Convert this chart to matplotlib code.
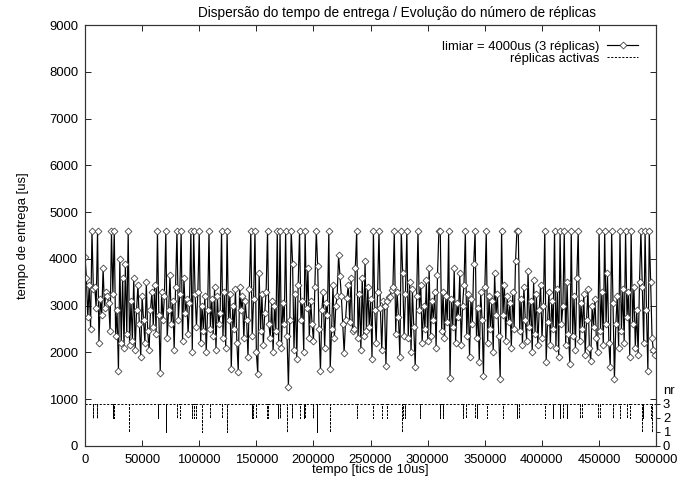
import numpy as np
import matplotlib
matplotlib.use("Agg")
import matplotlib.pyplot as plt

plt.rcParams['font.family'] = ['Liberation Sans', 'DejaVu Sans']

# ---------------- data ----------------
title = "Dispersão do tempo de entrega / Evolução do número de réplicas"
xlabel = "tempo [tics de 10us]"
ylabel = "tempo de entrega [us]"
label_delay = "limiar = 4000us (3 réplicas)"
label_nr = "réplicas activas"

sample_start = 0
sample_step = 1220  # tics between samples

delay_us = [
    4050, 3600, 2750, 3450, 2500, 4600, 3350, 3400, 2950, 4600,
    2200, 3150, 2800, 3800, 2950, 3300, 3200, 3050, 2450, 4600,
    3250, 4600, 2350, 2900, 1610, 4000, 2200, 3600, 2100, 3900,
    2400, 4600, 2150, 3100, 2250, 3600, 2050, 2900, 3450, 2600,
    1900, 3200, 2700, 2200, 3500, 2450, 2050, 2900, 3300, 2550,
    3450, 2400, 4600, 2800, 1560, 3300, 2700, 3200, 4600, 2300,
    2900, 3650, 2600, 3100, 2050, 3400, 4600, 2700, 3250, 4600,
    2250, 3600, 2850, 3150, 2400, 3050, 4600, 2000, 4600, 3250,
    2550, 3300, 4600, 2200, 3000, 2450, 3200, 2000, 2900, 4600,
    2500, 3150, 2350, 3400, 2050, 3200, 2600, 2850, 4600, 2300,
    3300, 2100, 4600, 2700, 3250, 1650, 3000, 2500, 3350, 2200,
    1590, 3400, 2900, 3200, 2300, 3100, 2700, 1900, 3350, 4600,
    2350, 3150, 4600, 2000, 1540, 3700, 2450, 3250, 2150, 2850,
    3300, 4600, 2600, 2300, 3100, 2000, 3000, 2450, 4600, 2200,
    4600, 2100, 3050, 2600, 4600, 2350, 1260, 2700, 4600, 3900,
    2050, 3250, 1850, 3450, 4600, 2700, 3100, 2000, 4600, 2950,
    3800, 2300, 3100, 2600, 2250, 3400, 4600, 3850, 2500, 1600,
    2900, 3300, 2100, 3050, 2800, 4600, 1650, 2500, 3450, 2300,
    3000, 3200, 4080, 3630, 3200, 2600, 1990, 2690, 3160, 3450,
    2650, 3600, 2450, 2500, 3800, 4600, 2300, 3250, 2050, 3600,
    2350, 3950, 2450, 3400, 2550, 3150, 1850, 4600, 2900, 2200,
    3300, 4600, 2950, 2050, 3100, 3000, 1710, 3100, 3190, 3190,
    3340, 3400, 4600, 2400, 3300, 2750, 1900, 4600, 3700, 2350,
    3250, 4600, 2300, 3500, 2000, 3350, 2550, 1690, 3200, 4600,
    2900, 3450, 2200, 3000, 2500, 3550, 2250, 3800, 2350, 3100,
    2700, 3300, 2100, 3650, 4600, 4600, 2450, 3300, 2300, 3200,
    2650, 4600, 1450, 3150, 2550, 3800, 2200, 3050, 2750, 3700,
    2150, 3000, 3450, 4600, 2350, 3250, 1900, 3150, 2600, 3900,
    4600, 2300, 2950, 1800, 3300, 2700, 1500, 3400, 4600, 2200,
    3200, 2500, 3100, 2000, 3700, 2800, 3250, 2350, 1430, 4600,
    2800, 3450, 2250, 3200, 2650, 3050, 2100, 3300, 2500, 3950,
    4600, 4600, 2450, 3150, 2150, 3400, 2700, 2250, 3750, 2550,
    3100, 2000, 3550, 2400, 3250, 2150, 2900, 3450, 2300, 3000,
    4600, 1800, 2650, 3300, 2150, 3100, 2500, 4600, 2100, 3350,
    1900, 4600, 2600, 3000, 4600, 2150, 3500, 2400, 1750, 4600,
    2350, 3200, 2050, 3600, 4600, 2250, 3050, 2500, 3250, 1950,
    2700, 3350, 2100, 1810, 3000, 2550, 3150, 2300, 2000, 4600,
    2450, 3300, 2150, 4600, 2600, 3700, 2200, 1690, 4600, 3050,
    1430, 2600, 3200, 2100, 4600, 2450, 3350, 2200, 4600, 2750,
    3300, 1900, 4600, 2600, 3400, 2100, 2900, 1950, 3500, 4600,
    3400, 2200, 4600, 2900, 1600, 4600, 3500, 2300, 2050, 1950,
]

# replica count: normally 3, drops at these instants to the given level
nr_base = 3
drop_times = [
    7300, 10800, 24300, 25700, 38300, 64200, 70900, 80800, 83200, 93400,
    95500, 96900, 102200, 109500, 119700, 124100, 146000, 147400, 149700, 159100,
    160500, 169300, 170800, 176600, 181000, 188300, 191800, 192700, 199900, 202900,
    214600, 237900, 252500, 259800, 264200, 277300, 278700, 280200, 293400, 310900,
    313800, 331300, 333600, 341500, 343000, 351800, 366300, 378000, 380300, 402800,
    410100, 415900, 418300, 421800, 433500, 434900, 449500, 451000, 462600, 468500,
    474300, 477200, 487500, 488900, 495400, 496200,
]
drop_levels = [
    2, 2, 2, 2, 1, 2, 1, 2, 2, 2,
    2, 2, 1, 2, 2, 1, 2, 2, 2, 2,
    2, 2, 2, 1, 2, 2, 2, 2, 2, 1,
    1, 2, 2, 2, 2, 1, 2, 2, 2, 2,
    2, 2, 2, 2, 2, 2, 2, 2, 2, 2,
    2, 2, 2, 2, 2, 2, 2, 2, 2, 2,
    2, 2, 1, 2, 2, 1,
]
t_end = 500000

xticks = list(range(0, 500001, 50000))
yticks = list(range(0, 9001, 1000))
nr_ticks = [0, 1, 2, 3]

# ---------------- build series ----------------
x_delay = sample_start + sample_step * np.arange(len(delay_us))

nr_x = [0]
nr_y = [nr_base]
for t, lv in zip(drop_times, drop_levels):
    nr_x += [t, t, t]
    nr_y += [nr_base, lv, nr_base]
nr_x.append(t_end)
nr_y.append(nr_base)

# ---------------- figure ----------------
FS = 9.4
fig = plt.figure(figsize=(6.88, 4.80), dpi=100)
ax = fig.add_axes([85 / 688, 34 / 480, (656 - 85) / 688, (446 - 25) / 480])

l1, = ax.plot(x_delay, delay_us, color='black', lw=0.85,
              marker='D', ms=3.5, mfc='white', mec='#444444', mew=0.6,
              label=label_delay)

ax2 = ax.twinx()
l2, = ax2.plot(nr_x, nr_y, color='black', lw=0.7, dashes=(2.2, 1.6),
               label=label_nr)
ax2.set_ylim(0, 30)
ax2.set_yticks(nr_ticks)
ax2.tick_params(axis='y', direction='out', length=3, width=0.6,
                labelsize=FS, pad=2)
ax2.text(1.012, 3.5, "nr", transform=ax2.get_yaxis_transform(),
         fontsize=FS, ha='left', va='bottom')

ax.set_xlim(0, 500000)
ax.set_ylim(0, 9000)
ax.set_xticks(xticks)
ax.set_yticks(yticks)
ax.tick_params(axis='both', direction='in', length=4, width=0.6,
               labelsize=FS, top=True, right=True)
ax.tick_params(axis='x', pad=5.5)
ax.tick_params(axis='y', pad=5)

for a in (ax, ax2):
    for s in a.spines.values():
        s.set_linewidth(0.8)
        s.set_color('#333333')

ax.set_xlabel(xlabel, fontsize=FS, labelpad=-1)
ax.set_ylabel(ylabel, fontsize=FS, labelpad=14)
fig.text(397 / 688, 1 - 13 / 480, title, fontsize=9.8, ha='center', va='center')

leg = ax2.legend([l1, l2], [label_delay, label_nr], loc='upper right',
                 frameon=False, markerfirst=False, fontsize=FS,
                 handlelength=2.4, handletextpad=0.6, labelspacing=0.0,
                 borderaxespad=0.3, bbox_to_anchor=(0.985, 0.985))

fig.savefig("out.png", dpi=100)
